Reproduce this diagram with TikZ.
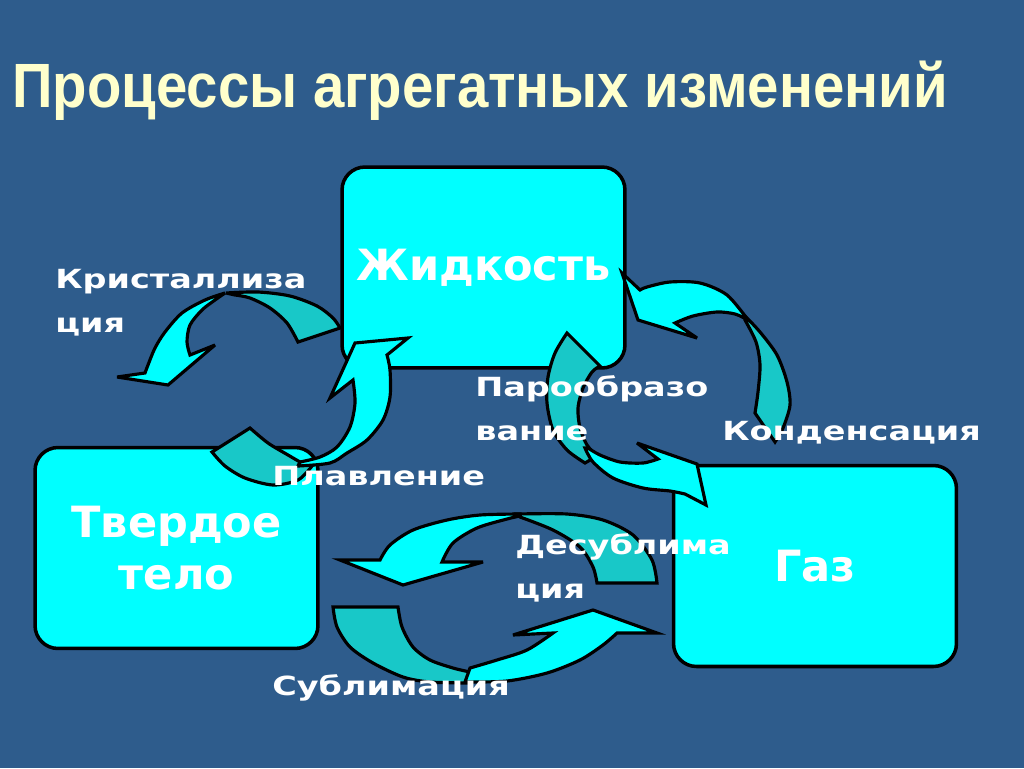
\documentclass[tikz,border=0pt]{standalone}
\usepackage{fontspec}
\setmainfont{DejaVu Sans}
\newfontfamily\titlefont{Liberation Sans}[FakeStretch=0.9]
\newfontfamily\labelfont{DejaVu Sans}[FakeStretch=1.27]

% curved arrows: back face (tail) and front face (head) of each
\def\crystback{plot[smooth] coordinates {(340,328) (333,318) (317,306) (290,296) (258,292) (226,293)} -- plot[smooth] coordinates {(235,295) (250,298) (270,308) (287,323) (298,342)} -- cycle}
\def\crystfront{plot[smooth] coordinates {(225,293) (205,300) (182,313) (165,332) (155,348) (148,365) (145,373)} -- (117,377) -- (168,385) -- (215,345) -- (190,355) -- plot[smooth] coordinates {(190,355) (187,342) (190,325) (202,310) (215,300) (225,293)} -- cycle}
\def\meltback{plot[smooth] coordinates {(212,452) (225,466) (245,478) (273,485) (298,480) (312,466)} -- plot[smooth] coordinates {(300,462) (288,455) (268,443) (250,428)} -- cycle}
\def\meltfront{plot[smooth] coordinates {(298,466) (330,463) (347,453) (367,440) (383,420) (390,397) (390,370) (387,355)} -- (408,338) -- (355,343) -- (330,398) -- (353,380) -- plot[smooth] coordinates {(353,380) (355,403) (350,427) (337,447) (320,457) (300,462)} -- cycle}
\def\condback{plot[smooth] coordinates {(745,316) (760,332) (777,355) (787,382) (790,405) (783,428) (775,442)} -- plot[smooth] coordinates {(755,413) (758,392) (760,365) (756,342) (745,320)} -- cycle}
\def\condfront{plot[smooth] coordinates {(640,290) (647,287) (670,282) (700,283) (727,295) (748,320)} -- plot[smooth] coordinates {(748,320) (735,314) (717,312) (693,316) (675,323)} -- (697,338) -- (638,320) -- (622,273) -- cycle}
\def\vapback{plot[smooth] coordinates {(567,333) (555,353) (548,377) (547,403) (553,430) (567,450) (585,463)} -- plot[smooth] coordinates {(597,456) (587,445) (580,428) (578,408) (583,388) (592,372) (600,366)} -- cycle}
\def\vapfront{plot[smooth] coordinates {(585,448) (593,462) (613,478) (643,488) (670,491) (685,494)} -- (706,505) -- (697,464) -- (637,443) -- (658,459) -- plot[smooth] coordinates {(658,459) (643,463) (620,462) (600,455) (588,448)} -- cycle}
\def\desubback{plot[smooth] coordinates {(657,583) (652,560) (633,535) (603,520) (567,514) (517,514)} -- plot[smooth] coordinates {(520,517) (553,530) (580,547) (593,567) (597,583)} -- cycle}
\def\desubfront{plot[smooth] coordinates {(520,514) (480,515) (447,520) (413,530) (390,545) (380,560)} -- (340,560) -- (403,585) -- (483,562) -- (442,562) -- plot[smooth] coordinates {(442,562) (453,543) (477,528) (507,519) (520,516)} -- cycle}
\def\subback{plot[smooth] coordinates {(333,607) (337,627) (350,647) (373,663) (403,677) (430,682) (470,683)} -- plot[smooth] coordinates {(470,672) (453,668) (430,660) (413,647) (402,627) (398,607)} -- cycle}
\def\subfront{plot[smooth] coordinates {(465,682) (507,681) (547,673) (580,660) (603,645) (617,633)} -- (657,633) -- (593,610) -- (513,635) -- (553,633) -- plot[smooth] coordinates {(553,633) (527,650) (497,660) (470,668)} -- cycle}

\definecolor{slide blue}{RGB}{46,92,140}
\definecolor{front face}{RGB}{0,255,255}
\definecolor{back face}{RGB}{24,200,200}
\definecolor{title yellow}{RGB}{255,255,204}
\tikzset{phase/.style={draw=black, line width=2pt, fill=front face, rounded corners=0.46cm,
        minimum width=5.66cm, minimum height=4.02cm, inner sep=0pt, text=white, align=center,
        font=\bfseries\fontsize{24.5pt}{30pt}\selectfont},
    frontface/.style={fill=front face, draw=black, line width=1.8pt, miter limit=6},
    backface/.style={fill=back face, draw=black, line width=1.8pt, miter limit=6},
    process/.style={text=white, inner sep=0pt, anchor=base west, align=left,
        font=\labelfont\bfseries\fontsize{15pt}{25pt}\selectfont}}

\begin{document}
\begin{tikzpicture}[x=0.02cm, y=-0.02cm]
    \useasboundingbox (0,0) rectangle (1024,768);
    \fill[slide blue] (0,0) rectangle (1024,768);

    \node[anchor=base west, inner sep=0pt, text=title yellow,
        font=\titlefont\bfseries\fontsize{35.6pt}{40pt}\selectfont] (title) at (12,107) {Процессы агрегатных изменений};

    \node[phase] (liquid) at (483.5,267.5) {Жидкость};
    \node[phase] (solid) at (176.5,548) {Твердое\\тело};
    \node[phase] (gas) at (815,566) {Газ};

    \draw[backface] \crystback;
    \draw[frontface] \crystfront;
    \draw[backface] \meltback;
    \draw[frontface] \meltfront;
    \draw[backface] \condback;
    \draw[frontface] \condfront;
    \draw[backface] \vapback;
    \draw[frontface] \vapfront;
    \draw[backface] \desubback;
    \draw[frontface] \desubfront;
    \draw[backface] \subback;
    \draw[frontface] \subfront;

    % multi-line labels: base is the last line
    \node[process] (crystlabel) at (55,332) {Кристаллиза\\ция};
    \node[process] (meltlabel) at (272,485) {Плавление};
    \node[process] (vaplabel) at (475,440) {Парообразо\\вание};
    \node[process] (condlabel) at (722,440) {Конденсация};
    \node[process] (desublabel) at (515,598) {Десублима\\ция};
    \node[process] (sublabel) at (272,695) {Сублимация};
\end{tikzpicture}
\end{document}
